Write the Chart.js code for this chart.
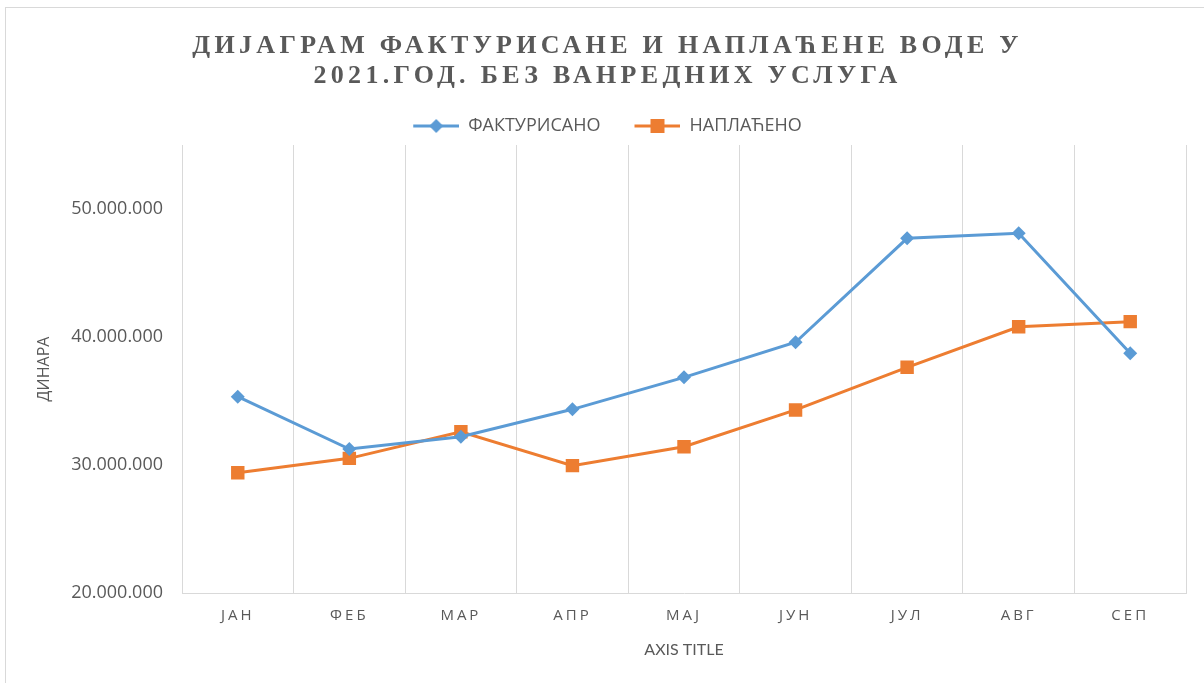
<!DOCTYPE html>
<html>
<head>
<meta charset="utf-8">
<script src="https://cdn.jsdelivr.net/npm/chart.js@4/dist/chart.umd.min.js"></script>
<style>
  html, body { margin: 0; padding: 0; background: #fff; }
  #wrap { width: 1204px; height: 683px; }
</style>
</head>
<body>
<div id="wrap"><canvas id="lineChart"></canvas></div>
<script>
const months = ['ЈАН', 'ФЕБ', 'МАР', 'АПР', 'МАЈ', 'ЈУН', 'ЈУЛ', 'АВГ', 'СЕП'];
const fakturisano = [35340000, 31250000, 32210000, 34350000, 36850000, 39590000, 47710000, 48100000, 38730000];
const naplaceno = [29400000, 30520000, 32600000, 29950000, 31430000, 34300000, 37630000, 40800000, 41200000];
const yTicks = [20000000, 30000000, 40000000, 50000000];

const blue = '#5B9BD5';
const orange = '#ED7D31';
const grey = '#595959';

// legend icon: short line with the marker in the middle (blank gap on the left for item spacing)
function legendIcon(color, shape) {
    const c = document.createElement('canvas');
    c.width = 70; c.height = 16;
    const g = c.getContext('2d');
    g.strokeStyle = color;
    g.lineWidth = 3;
    g.beginPath(); g.moveTo(24, 8); g.lineTo(70, 8); g.stroke();
    g.fillStyle = color;
    g.beginPath();
    if (shape === 'diamond') {
        g.moveTo(47, 1); g.lineTo(54, 8); g.lineTo(47, 15); g.lineTo(40, 8);
    } else {
        g.rect(40, 1, 14, 14);
    }
    g.fill();
    return c;
}

const frameAndSpacing = {
    id: 'frameAndSpacing',
    beforeDraw(chart) {
        const ctx = chart.ctx;
        ctx.save();
        ctx.strokeStyle = '#d9d9d9';
        ctx.lineWidth = 1;
        ctx.strokeRect(5.5, 7.5, 1400, 900);
        ctx.restore();
        const tb = chart.titleBlock;
        if (tb && !tb._spaced) {
            const d = tb.draw;
            tb.draw = function () {
                this.ctx.save();
                this.ctx.translate(12, 0);
                this.ctx.letterSpacing = '4.3px';
                d.apply(this, arguments);
                this.ctx.restore();
            };
            tb._spaced = true;
        }
        const xs = chart.scales.x;
        if (xs && !xs._spaced) {
            const dl = xs.drawLabels;
            xs.drawLabels = function () { this.ctx.save(); this.ctx.letterSpacing = '3px'; dl.apply(this, arguments); this.ctx.restore(); };
            xs._spaced = true;
        }
    }
};

const ctx = document.getElementById('lineChart').getContext('2d');
const chart = new Chart(ctx, {
    type: 'line',
    data: {
        labels: months,
        datasets: [{
            label: 'ФАКТУРИСАНО',
            data: fakturisano,
            borderColor: blue,
            backgroundColor: blue,
            borderWidth: 3,
            pointStyle: 'rectRot',
            pointRadius: 7,
            pointHoverRadius: 7,
            pointBorderWidth: 0,
            pointBackgroundColor: blue,
            tension: 0
        }, {
            label: 'НАПЛАЋЕНО',
            data: naplaceno,
            borderColor: orange,
            backgroundColor: orange,
            borderWidth: 3,
            pointStyle: 'rect',
            pointRadius: 9.5,
            pointHoverRadius: 9.5,
            pointBorderWidth: 0,
            pointBackgroundColor: orange,
            tension: 0
        }]
    },
    options: {
        responsive: true,
        maintainAspectRatio: false,
        animation: false,
        layout: { padding: { left: 5, right: 18, top: 10, bottom: 0 } },
        plugins: {
            title: {
                display: true,
                text: ['ДИЈАГРАМ ФАКТУРИСАНЕ И НАПЛАЋЕНЕ ВОДЕ У', '2021.ГОД. БЕЗ ВАНРЕДНИХ УСЛУГА'],
                color: grey,
                font: { family: 'Liberation Serif', size: 26, weight: 'bold', lineHeight: 30 / 26 },
                padding: { top: 21, bottom: 16 }
            },
            legend: {
                display: true,
                labels: {
                    color: grey,
                    font: { family: 'Open Sans', size: 18 },
                    usePointStyle: true,
                    pointStyleWidth: 70,
                    padding: 10,
                    generateLabels: () => [
                        { text: 'ФАКТУРИСАНО', pointStyle: legendIcon(blue, 'diamond'), fillStyle: blue, strokeStyle: blue, lineWidth: 0, datasetIndex: 0, fontColor: grey },
                        { text: 'НАПЛАЋЕНО', pointStyle: legendIcon(orange, 'square'), fillStyle: orange, strokeStyle: orange, lineWidth: 0, datasetIndex: 1, fontColor: grey }
                    ]
                }
            },
            tooltip: { enabled: false }
        },
        scales: {
            x: {
                offset: true,
                grid: { offset: true, display: true, color: '#d9d9d9', lineWidth: 1, drawTicks: false },
                border: { display: true, color: '#d9d9d9', width: 1 },
                ticks: { color: grey, font: { family: 'Open Sans', size: 15 }, padding: 14 },
                title: {
                    display: true,
                    text: 'AXIS TITLE',
                    color: grey,
                    font: { family: 'Lato', size: 16 },
                    padding: { top: 4, bottom: 24 }
                },
                afterFit: s => { s.height = 90; }
            },
            y: {
                min: 20000000,
                max: 55000000,
                grid: { display: false, drawTicks: false },
                border: { display: false },
                afterBuildTicks: s => { s.ticks = yTicks.map(v => ({ value: v })); },
                ticks: {
                    color: grey,
                    font: { family: 'Open Sans', size: 18 },
                    padding: 19,
                    callback: v => v.toLocaleString('de-DE')
                },
                title: {
                    display: true,
                    text: 'ДИНАРА',
                    color: grey,
                    font: { family: 'Open Sans', size: 16 },
                    padding: { top: 30, bottom: 10 }
                },
                afterFit: s => { s.width = 177; }
            }
        }
    },
    plugins: [frameAndSpacing]
});
chart.draw();
</script>
</body>
</html>
